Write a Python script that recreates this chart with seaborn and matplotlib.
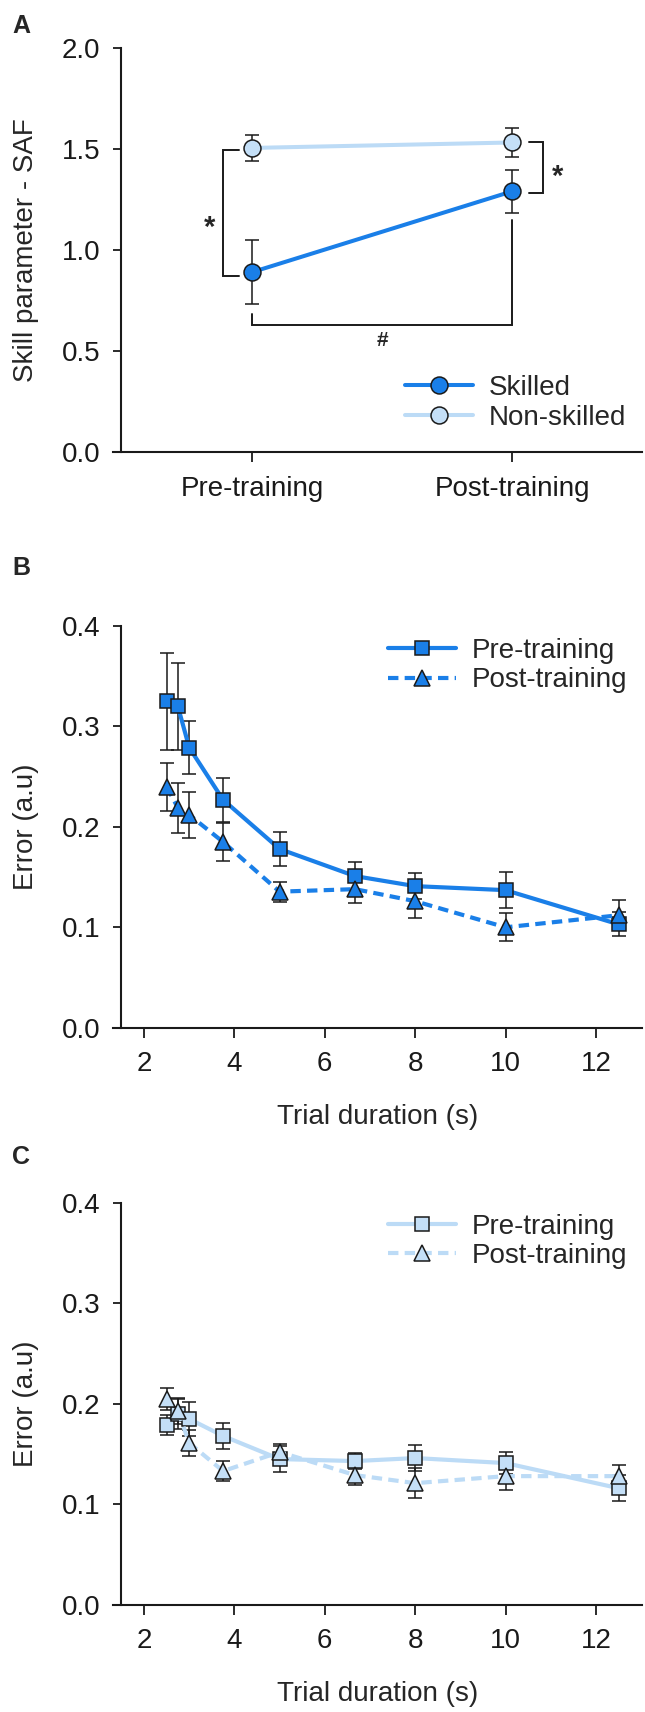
import numpy as np
import matplotlib
matplotlib.use("Agg")
import matplotlib.pyplot as plt
import seaborn as sns

# Panel A: skill parameter (SAF), mean +/- error
phases = ["Pre-training", "Post-training"]
skilled_saf = [0.89, 1.29]
skilled_saf_err = [0.16, 0.105]
nonskilled_saf = [1.505, 1.532]
nonskilled_saf_err = [0.065, 0.07]

# Panels B/C: error vs trial duration
durations = [2.5, 2.75, 3.0, 3.75, 5.0, 6.67, 8.0, 10.0, 12.5]
skilled_pre = [0.325, 0.320, 0.279, 0.227, 0.178, 0.151, 0.141, 0.137, 0.103]
skilled_pre_err = [0.048, 0.043, 0.026, 0.022, 0.0165, 0.014, 0.013, 0.018, 0.012]
skilled_post = [0.240, 0.219, 0.212, 0.185, 0.1355, 0.138, 0.126, 0.100, 0.112]
skilled_post_err = [0.024, 0.025, 0.023, 0.019, 0.010, 0.014, 0.017, 0.014, 0.015]
nonskilled_pre = [0.179, 0.190, 0.185, 0.168, 0.145, 0.143, 0.146, 0.141, 0.116]
nonskilled_pre_err = [0.010, 0.015, 0.017, 0.0125, 0.013, 0.008, 0.013, 0.011, 0.013]
nonskilled_post = [0.205, 0.193, 0.161, 0.133, 0.152, 0.129, 0.121, 0.128, 0.128]
nonskilled_post_err = [0.011, 0.013, 0.013, 0.010, 0.008, 0.010, 0.015, 0.014, 0.011]

BLUE = "#1A7FE8"
LIGHT = "#C4DFF7"
LIGHT_LINE = "#BCDBF6"

sns.set_theme(style="ticks")
plt.rcParams["font.family"] = ["Liberation Sans", "DejaVu Sans"]

FS = 20

fig = plt.figure(figsize=(6.45, 17.12), dpi=100)

left, width = 113 / 645, 529 / 645
axA = fig.add_axes([left, 0.736, width, 0.236])
axB = fig.add_axes([left, 0.3997, width, 0.2346])
axC = fig.add_axes([left, 0.0627, width, 0.2346])


def style_axes(ax, spine_x):
    sns.despine(ax=ax)
    ax.spines["left"].set_position(("data", spine_x))
    for s in ["left", "bottom"]:
        ax.spines[s].set_linewidth(1.5)
        ax.spines[s].set_color("k")
    ax.tick_params(axis="y", length=5.8, width=1.3, pad=9, labelsize=FS, colors="k")
    ax.tick_params(axis="x", length=7, width=1.3, pad=10, labelsize=FS, colors="k")


def legend(ax, x, y):
    ax.legend(loc="upper left", bbox_to_anchor=(x, y), frameon=False, fontsize=FS,
              handlelength=2.45, handletextpad=0.55, labelspacing=0.12,
              borderpad=0, borderaxespad=0)


# ---- Panel A ----
pos = np.arange(len(phases))
axA.errorbar(pos, nonskilled_saf, yerr=nonskilled_saf_err, fmt="none", ecolor="k",
             elinewidth=1.1, capsize=4.8, capthick=1.1, zorder=1.5)
axA.errorbar(pos, skilled_saf, yerr=skilled_saf_err, fmt="none", ecolor="k",
             elinewidth=1.1, capsize=4.8, capthick=1.1, zorder=1.5)
sns.lineplot(x=pos, y=skilled_saf, ax=axA, color=BLUE, lw=2.9, marker="o",
             markersize=12.2, markerfacecolor=BLUE, markeredgecolor="k",
             markeredgewidth=1.1, label="Skilled", zorder=3)
sns.lineplot(x=pos, y=nonskilled_saf, ax=axA, color=LIGHT_LINE, lw=2.9, marker="o",
             markersize=12.2, markerfacecolor=LIGHT, markeredgecolor="k",
             markeredgewidth=1.1, label="Non-skilled", zorder=3)

# significance brackets
bk = dict(color="k", lw=1.4, solid_joinstyle="miter")
axA.plot([-0.05, -0.11, -0.11, -0.05], [1.495, 1.495, 0.87, 0.87], **bk)
axA.plot([1.066, 1.12, 1.12, 1.066], [1.532, 1.532, 1.281, 1.281], **bk)
axA.plot([0, 0, 1, 1], [0.684, 0.628, 0.628, 1.148], **bk)
axA.text(-0.162, 1.11, "*", fontsize=21, fontweight="bold", ha="center", va="center")
axA.text(1.175, 1.36, "*", fontsize=21, fontweight="bold", ha="center", va="center")
axA.text(0.5, 0.55, "#", fontsize=15, fontweight="bold", ha="center", va="center")

axA.set_xlim(-0.535, 1.5)
axA.set_ylim(0, 2.0)
axA.set_xticks(pos, labels=phases)
axA.set_yticks(np.arange(0, 2.01, 0.5))
axA.set_yticklabels([f"{v:.1f}" for v in np.arange(0, 2.01, 0.5)])
axA.set_ylabel("Skill parameter - SAF", fontsize=FS)
axA.yaxis.set_label_coords(-0.14, 0.5)
axA.set_xlabel("")
style_axes(axA, -0.504)
legend(axA, 0.552, 0.19)


# ---- Panels B and C ----
def error_panel(ax, pre, pre_err, post, post_err, face, line_col):
    ax.errorbar(durations, pre, yerr=pre_err, fmt="none", ecolor="k",
                elinewidth=1.1, capsize=4.8, capthick=1.1, zorder=1.5)
    ax.errorbar(durations, post, yerr=post_err, fmt="none", ecolor="k",
                elinewidth=1.1, capsize=4.8, capthick=1.1, zorder=1.5)
    sns.lineplot(x=durations, y=pre, ax=ax, color=line_col, lw=3, marker="s",
                 markersize=10.5, markerfacecolor=face, markeredgecolor="k",
                 markeredgewidth=1.1, label="Pre-training", zorder=3)
    sns.lineplot(x=durations, y=post, ax=ax, color=line_col, lw=3, marker="^",
                 markersize=11.5, markerfacecolor=face, markeredgecolor="k",
                 markeredgewidth=1.1, linestyle=(0, (2.5, 1.5)),
                 label="Post-training", zorder=3.1)
    ax.set_xlim(1.314, 13.02)
    ax.set_ylim(0, 0.4)
    ax.set_xticks([2, 4, 6, 8, 10, 12])
    yt = np.arange(0, 0.41, 0.1)
    ax.set_yticks(yt)
    ax.set_yticklabels([f"{v:.1f}" for v in yt])
    ax.set_ylabel("Error (a.u)", fontsize=FS)
    ax.yaxis.set_label_coords(-0.14, 0.5)
    ax.set_xlabel("Trial duration (s)", fontsize=FS)
    ax.xaxis.set_label_coords(0.5, -0.19)
    style_axes(ax, 1.49)


error_panel(axB, skilled_pre, skilled_pre_err, skilled_post, skilled_post_err, BLUE, BLUE)
legend(axB, 0.52, 0.97)
error_panel(axC, nonskilled_pre, nonskilled_pre_err, nonskilled_post, nonskilled_post_err,
            LIGHT, LIGHT_LINE)
legend(axC, 0.52, 0.973)

for lab, y in [("A", 26), ("B", 568), ("C", 1157)]:
    fig.text(12 / 645, 1 - y / 1712, lab, fontsize=18, fontweight="bold",
             ha="left", va="center")

fig.savefig("out.png", dpi=100)
